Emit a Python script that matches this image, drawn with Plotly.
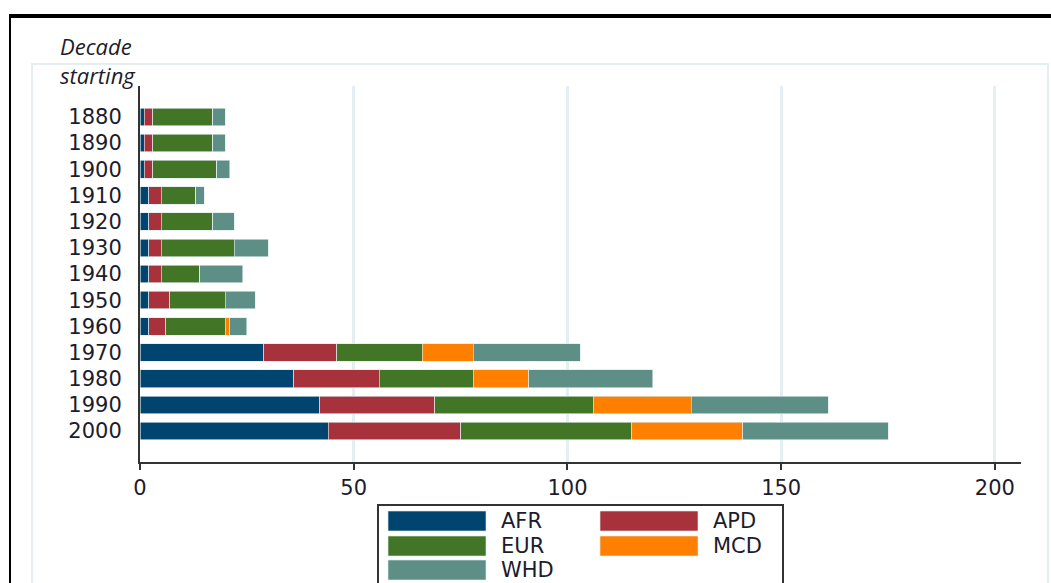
import plotly.graph_objects as go

decades = ["1880", "1890", "1900", "1910", "1920", "1930", "1940",
           "1950", "1960", "1970", "1980", "1990", "2000"]
AFR = [1, 1, 1, 2, 2, 2, 2, 2, 2, 29, 36, 42, 44]
APD = [2, 2, 2, 3, 3, 3, 3, 5, 4, 17, 20, 27, 31]
EUR = [14, 14, 15, 8, 12, 17, 9, 13, 14, 20, 22, 37, 40]
MCD = [0, 0, 0, 0, 0, 0, 0, 0, 1, 12, 13, 23, 26]
WHD = [3, 3, 3, 2, 5, 8, 10, 7, 4, 25, 29, 32, 34]
series_names = ["AFR", "APD", "EUR", "MCD", "WHD"]
series_values = [AFR, APD, EUR, MCD, WHD]
colors = ["#00446f", "#a8323b", "#437526", "#ff7f00", "#5e8f86"]
x_ticks = [0, 50, 100, 150, 200]

W, H = 1051, 583
def px(x):
    return x / W
def py(y):
    return 1 - y / H

fig = go.Figure()
for name, vals, col in zip(series_names, series_values, colors):
    fig.add_trace(go.Bar(
        y=decades, x=vals, name=name, orientation="h",
        marker=dict(color=col, line=dict(color="rgba(220,235,235,0.8)", width=0.8)),
        width=0.67, showlegend=False))

font_main = dict(family="DejaVu Sans", size=21, color="#1c1c2c")

fig.update_layout(
    width=W, height=H, barmode="stack",
    margin=dict(l=0, r=0, t=0, b=0),
    paper_bgcolor="white", plot_bgcolor="white",
    font=font_main,
    xaxis=dict(domain=[px(140), px(1021)], range=[0, 206.1],
               tickvals=x_ticks, ticktext=[str(v) for v in x_ticks],
               showgrid=True, gridcolor="#e4eff2", gridwidth=3,
               showline=True, linecolor="#333333", linewidth=2,
               ticks="outside", ticklen=6, tickwidth=2, tickcolor="#333333",
               zeroline=False, tickfont=font_main, automargin=False),
    yaxis=dict(domain=[py(462), py(86)], type="category",
               categoryorder="array", categoryarray=decades,
               range=[12 + 1.18, -1.18],
               showgrid=False, showline=True, linecolor="#333333", linewidth=2,
               ticks="", ticklabelstandoff=12, zeroline=False, tickfont=font_main,
               automargin=False),
)

shapes = []
# outer black frame
shapes.append(dict(type="rect", xref="paper", yref="paper",
                   x0=px(10), x1=px(1100), y0=py(700), y1=py(16),
                   line=dict(color="black", width=2)))
shapes.append(dict(type="line", xref="paper", yref="paper",
                   x0=px(9), x1=px(1100), y0=py(16), y1=py(16),
                   line=dict(color="black", width=4)))
# plot region light frame
shapes.append(dict(type="rect", xref="paper", yref="paper",
                   x0=px(32), x1=px(1048), y0=py(700), y1=py(64),
                   line=dict(color="#e4f0ef", width=2)))
# legend box
shapes.append(dict(type="rect", xref="paper", yref="paper",
                   x0=px(378), x1=px(783), y0=py(700), y1=py(505),
                   line=dict(color="#333333", width=2), fillcolor="white"))

annotations = []
legend_pos = [(388, 511), (600, 511), (388, 536), (600, 536), (388, 560)]
for (lx, ly), name, col in zip(legend_pos, series_names, colors):
    shapes.append(dict(type="rect", xref="paper", yref="paper",
                       x0=px(lx), x1=px(lx + 98), y0=py(ly + 20), y1=py(ly),
                       line=dict(color="rgba(220,235,235,0.8)", width=0.8),
                       fillcolor=col))
    annotations.append(dict(text=name, xref="paper", yref="paper",
                            x=px(lx + 111), y=py(ly + 10), xanchor="left",
                            yanchor="middle", showarrow=False, font=font_main))

annotations.append(dict(text="<i>Decade<br>starting</i>", xref="paper", yref="paper",
                        x=px(58), y=py(29), xanchor="left", yanchor="top",
                        align="left", showarrow=False,
                        font=dict(family="Open Sans", size=22, color="#1c1c2c")))

fig.update_layout(shapes=shapes, annotations=annotations)
fig.write_html("out.html", config={"displayModeBar": False},
               post_script="document.body.style.margin='0';document.body.style.overflow='hidden';")
